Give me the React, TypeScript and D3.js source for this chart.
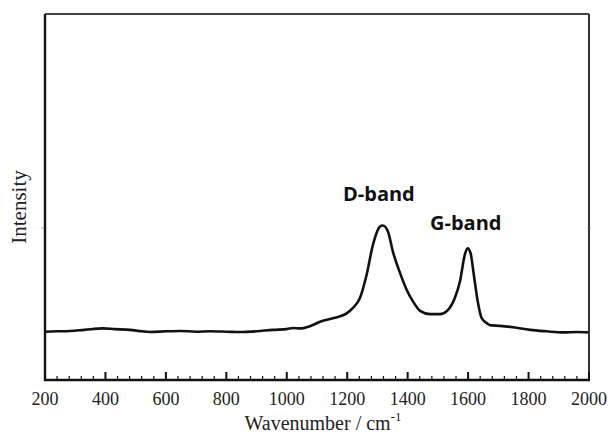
import React from "react";
import * as d3 from "d3";

const wavenumber = [200, 240, 283, 330, 392, 430, 481, 520, 547, 600, 647, 700, 746, 800, 845, 900, 954, 1000, 1021, 1044, 1080, 1110, 1150, 1198, 1219, 1242, 1264, 1285, 1308, 1318, 1335, 1351, 1375, 1397, 1418, 1441, 1474, 1507, 1533, 1556, 1573, 1589, 1598, 1608, 1619, 1632, 1645, 1661, 1672, 1706, 1749, 1805, 1860, 1914, 1960, 2000];
const intensity = [132, 133, 134, 137, 141, 139, 137, 133, 131, 133, 134, 132, 133, 132, 131, 133, 137, 139, 142, 141, 148, 159, 168, 182, 197, 224, 287, 369, 419, 422, 405, 351, 292, 246, 214, 189, 180, 180, 191, 224, 269, 342, 360, 347, 287, 214, 169, 156, 150, 148, 144, 137, 133, 130, 131, 130];
const xTicks = [200, 400, 600, 800, 1000, 1200, 1400, 1600, 1800, 2000];
const bandLabels = ["D-band", "G-band"];
const bandPositions = [1186, 1474];
const bandHeights = [488, 411];

export default function App() {
  const W = 609, H = 437;
  const left = 45, right = 589, top = 14, bottom = 380;
  const x = d3.scaleLinear().domain([200, 2000]).range([left, right]);
  const y = d3.scaleLinear().domain([0, 1000]).range([bottom, top]);
  const data = wavenumber.map((w, i) => [w, intensity[i]] as [number, number]);
  const line = d3.line<[number, number]>().x(d => x(d[0])).y(d => y(d[1])).curve(d3.curveMonotoneX);
  const minor = d3.range(200, 2001, 40).filter(v => !xTicks.includes(v));
  const serif = "'Liberation Serif', 'Times New Roman', serif";
  return (
    <svg width={W} height={H} style={{ position: "absolute", left: 0, top: 0, background: "#fff" }}>
      <rect x={0} y={0} width={W} height={H} fill="#fff" />
      <path d={line(data) || ""} fill="none" stroke="#111" strokeWidth={2.6} strokeLinejoin="round" />
      <line x1={left} x2={right} y1={top} y2={top} stroke="#444" strokeWidth={2} />
      <line x1={right} x2={right} y1={top} y2={bottom} stroke="#333" strokeWidth={2} />
      <line x1={left} x2={left} y1={top} y2={bottom + 1} stroke="#111" strokeWidth={2.4} />
      <line x1={left - 1} x2={right + 1} y1={bottom} y2={bottom} stroke="#111" strokeWidth={2.4} />
      {xTicks.map(t => (
        <g key={t}>
          <line x1={x(t)} x2={x(t)} y1={bottom} y2={bottom - 8} stroke="#111" strokeWidth={2} />
          <text x={x(t)} y={405} textAnchor="middle" fontFamily={serif} fontSize={18} fill="#222">{t}</text>
        </g>
      ))}
      {minor.map(t => (
        <line key={t} x1={x(t)} x2={x(t)} y1={bottom} y2={bottom - 4} stroke="#111" strokeWidth={1.2} />
      ))}
      <line x1={left - 4} x2={left} y1={y(415)} y2={y(415)} stroke="#b55" strokeWidth={1} opacity={0.6} />
      <line x1={right - 2} x2={right + 2} y1={y(415)} y2={y(415)} stroke="#b55" strokeWidth={1} opacity={0.6} />
      {bandLabels.map((l, i) => (
        <text key={l} x={x(bandPositions[i])} y={y(bandHeights[i])} fontFamily="'Open Sans', sans-serif" fontWeight="bold" fontSize={20} fill="#111">{l}</text>
      ))}
      <text x={323} y={430} textAnchor="middle" fontFamily={serif} fontSize={20} fill="#222">
        Wavenumber / cm<tspan dy={-9} fontSize={13}>-1</tspan>
      </text>
      <text transform="translate(26,207) rotate(-90)" textAnchor="middle" fontFamily={serif} fontSize={21} fill="#222">Intensity</text>
    </svg>
  );
}
